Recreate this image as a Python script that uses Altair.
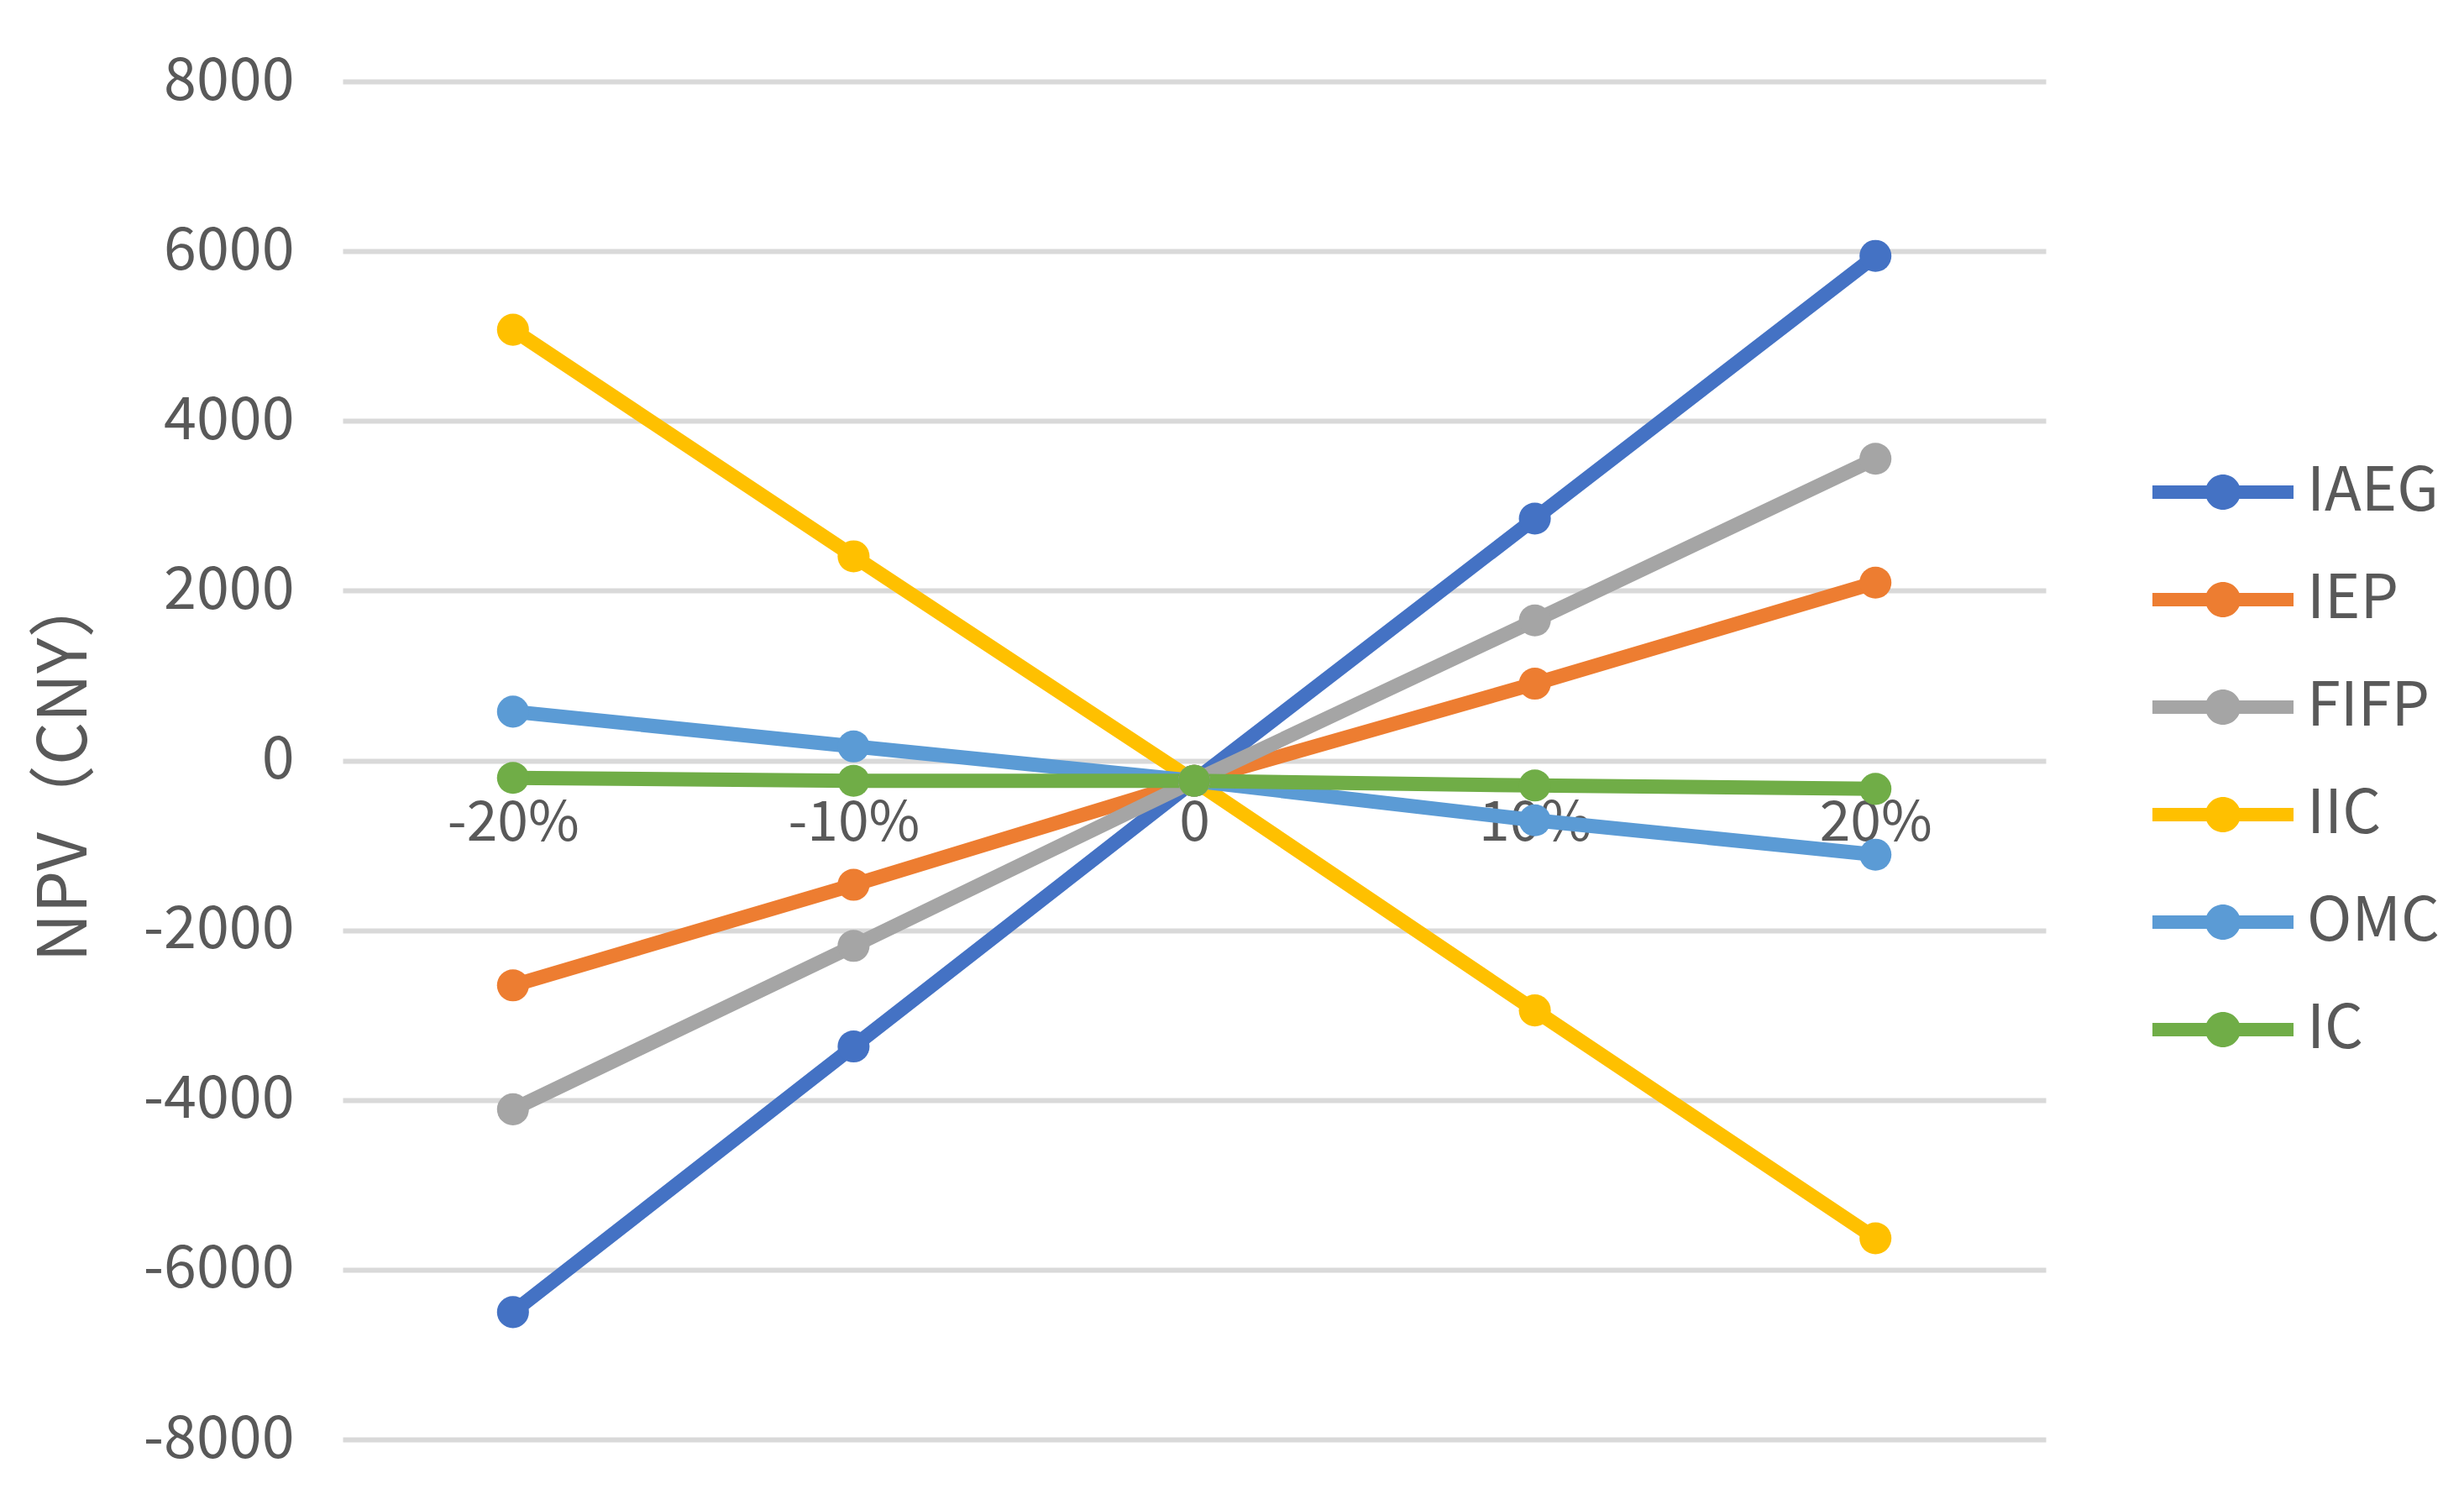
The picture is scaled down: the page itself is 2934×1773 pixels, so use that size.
import altair as alt
import pandas as pd

categories = ["-20%", "-10%", "0", "10%", "20%"]
series = ["IAEG", "IEP", "FIFP", "IIC", "OMC", "IC"]
IAEG = [-6500, -3370, -240, 2850, 5945]
IEP = [-2650, -1465, -240, 905, 2095]
FIFP = [-4110, -2185, -240, 1650, 3555]
IIC = [5075, 2405, -240, -2945, -5630]
OMC = [575, 165, -240, -705, -1110]
IC = [-205, -240, -240, -295, -335]
colors = ["#4472C4", "#ED7D31", "#A5A5A5", "#FFC000", "#5B9BD5", "#70AD47"]
y_ticks = [-8000, -6000, -4000, -2000, 0, 2000, 4000, 6000, 8000]

values = {"IAEG": IAEG, "IEP": IEP, "FIFP": FIFP, "IIC": IIC, "OMC": OMC, "IC": IC}
rows = []
for si, s in enumerate(series):
    for ci, c in enumerate(categories):
        rows.append({"cat": c, "series": s, "value": values[s][ci], "ord": si * 10 + ci})
df = pd.DataFrame(rows)

FONT = "Noto Sans CJK SC"
GREY = "#595959"
legend_path = ("M -1.68 -0.16 L 1.68 -0.16 L 1.68 0.16 L -1.68 0.16 Z "
               "M -0.42 0 A 0.42 0.42 0 1 1 0.42 0 A 0.42 0.42 0 1 1 -0.42 0 Z")

x_enc = alt.X("cat:N", sort=categories, title=None,
              axis=alt.Axis(labelAngle=0, offset=-808, domain=False, ticks=False, grid=False,
                            labelPadding=42, labelFont=FONT, labelLimit=400,
                            labelFontSize=66, labelColor=GREY))
y_enc = alt.Y("value:Q", scale=alt.Scale(domain=[-8000, 8000], nice=False),
              axis=alt.Axis(values=y_ticks, labelExpr="'' + datum.value", title="NPV（CNY）",
                            domain=False, ticks=False, grid=True, gridColor="#D9D9D9", gridWidth=6,
                            labelPadding=58, labelFont=FONT, labelFontSize=70, labelColor=GREY,
                            titleFont=FONT, titleFontSize=80, titleFontWeight="normal",
                            titleColor=GREY, titleX=-330, titleY=815, titleBaseline="middle"))
legend = alt.Legend(title=None, orient="none", legendX=2189, legendY=439, symbolType=legend_path,
                    symbolSize=10000, symbolStrokeWidth=0, labelFont=FONT, labelFontSize=72,
                    labelColor=GREY, labelOffset=50, rowPadding=42, labelLimit=400)
color_scale = alt.Scale(domain=series, range=colors)

lines = alt.Chart(df).mark_line(strokeWidth=17).encode(
    x=x_enc, y=y_enc,
    color=alt.Color("series:N", scale=color_scale, legend=legend),
    order="ord:Q",
)
points = alt.Chart(df).mark_circle(size=1450, opacity=1).encode(
    x=x_enc, y=y_enc,
    color=alt.Color("series:N", scale=color_scale, legend=legend),
    order="ord:Q",
)

chart = alt.layer(lines, points).properties(
    width=2028, height=1617, autosize="none",
    padding={"left": 400, "top": 89, "right": 490, "bottom": 51},
).configure_view(stroke=None)

chart.save("out.html", embed_options={"renderer": "svg", "actions": False})
